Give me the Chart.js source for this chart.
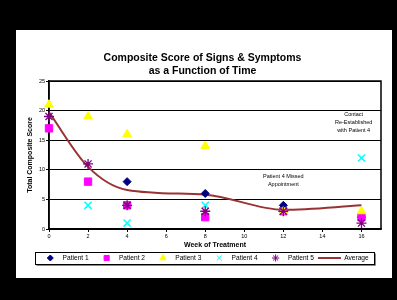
<!DOCTYPE html>
<html>
<head>
<meta charset="utf-8">
<script src="https://cdn.jsdelivr.net/npm/chart.js@4/dist/chart.umd.min.js"></script>
<style>
  body { margin: 0; background: #000; width: 397px; height: 300px; overflow: hidden; }
  #panel { position: absolute; left: 16px; top: 30px; width: 376px; height: 248px; background: #fff; }
</style>
</head>
<body>
<div id="panel"><canvas id="myChart" width="376" height="248"></canvas></div>
<script>
// weeks of treatment
const weeks = [0, 2, 4, 8, 12, 16];

// scores per patient (null = no visit / no reading)
const patient1 = [null, null, 8, 6, 4, 2];
const patient2 = [17, 8, 4, 2, 3, 2];
const patient3 = [21, 19, 16, 14, 3, 3];
const patient4 = [null, 4, 1, 4, null, 12];
const patient5 = [19, 11, 4, 3, 3, 1];
const average = [19.7, 10.5, 6.6, 5.8, 3.25, 4];

const xTicks = [0, 2, 4, 6, 8, 10, 12, 14, 16];

// text notes on the plot: x week, y score, lines
const noteWeeks = [15.6, 12];
const noteScores = [19.4, 8.8];
const noteLines = [["Contact", "Re-Established", "with Patient 4"], ["Patient 4 Missed", "Appointment"]];

function toPoints(vals) {
    return weeks.map((w, i) => ({ x: w, y: vals[i] })).filter(p => p.y !== null);
}

Chart.defaults.font.family = "'Liberation Sans', Arial, sans-serif";
Chart.defaults.color = '#000';

// legend marker sizes (small, like the original)
const legendRadius = { rectRot: 3, rect: 3.6, triangle: 3.6, crossRot: 3.6, star: 3.6 };

const framePlugin = {
    id: 'frame',
    beforeDatasetsDraw(chart) {
        const a = chart.chartArea;
        const ctx = chart.ctx;
        ctx.save();
        ctx.strokeStyle = '#000';
        ctx.lineWidth = 1.5;
        ctx.strokeRect(a.left, a.top, a.right - a.left, a.bottom - a.top);
        ctx.restore();
    },
    afterDatasetsDraw(chart) {
        const ctx = chart.ctx;
        const xs = chart.scales.x, ys = chart.scales.y;
        ctx.save();
        ctx.fillStyle = '#000';
        ctx.font = "5.5px 'Liberation Sans', Arial, sans-serif";
        ctx.textAlign = 'center';
        ctx.textBaseline = 'middle';
        noteLines.forEach((lines, n) => {
            const px = xs.getPixelForValue(noteWeeks[n]);
            const py = ys.getPixelForValue(noteScores[n]);
            lines.forEach((t, i) => ctx.fillText(t, px, py + i * 8));
        });
        ctx.restore();
    },
    afterDraw(chart) {
        const lg = chart.legend;
        const hb = lg.legendHitBoxes;
        if (!hb || !hb.length) return;
        const ctx = chart.ctx;
        const cy = hb[0].top + lg.options.labels.font.size / 2;
        // markers
        ctx.save();
        lg.legendItems.forEach((item, i) => {
            const ds = chart.data.datasets[item.datasetIndex];
            if (ds.pointStyle === 'line') return;
            ctx.fillStyle = ds.backgroundColor;
            ctx.strokeStyle = ds.borderColor;
            ctx.lineWidth = 1;
            Chart.helpers.drawPoint(ctx, { pointStyle: ds.pointStyle, radius: legendRadius[ds.pointStyle], borderWidth: 1, rotation: 0 }, hb[i].left + 14, cy);
        });
        ctx.restore();
        // box round the legend
        const last = hb[hb.length - 1];
        const left = Math.round(hb[0].left - 1);
        const right = Math.round(last.left + last.width + 5);
        const top = Math.round(cy - 6);
        ctx.save();
        ctx.strokeStyle = '#000';
        ctx.lineWidth = 1;
        ctx.strokeRect(left + 0.5, top + 0.5, right - left, 12);
        ctx.strokeStyle = '#888';
        ctx.beginPath();
        ctx.moveTo(left + 1.5, top + 13.5);
        ctx.lineTo(right + 1.5, top + 13.5);
        ctx.lineTo(right + 1.5, top + 1.5);
        ctx.stroke();
        ctx.restore();
    }
};

const ctx = document.getElementById('myChart');
const chart = new Chart(ctx, {
    type: 'scatter',
    data: {
        datasets: [
            {
                label: 'Patient 1', data: toPoints(patient1), order: 6, clip: false,
                pointStyle: 'rectRot', pointRadius: 4, backgroundColor: '#000080', borderColor: '#000080', borderWidth: 1
            },
            {
                label: 'Patient 2', data: toPoints(patient2), order: 5, clip: false,
                pointStyle: 'rect', pointRadius: 5.2, backgroundColor: '#ff00ff', borderColor: '#ff00ff', borderWidth: 1
            },
            {
                label: 'Patient 3', data: toPoints(patient3), order: 4, clip: false,
                pointStyle: 'triangle', pointRadius: 5, backgroundColor: '#ffff00', borderColor: '#ffff00', borderWidth: 1
            },
            {
                label: 'Patient 4', data: toPoints(patient4), order: 3, clip: false,
                pointStyle: 'crossRot', pointRadius: 5, backgroundColor: '#00ffff', borderColor: '#00ffff', borderWidth: 1.5
            },
            {
                label: 'Patient 5', data: toPoints(patient5), order: 2, clip: false,
                pointStyle: 'star', pointRadius: 5, backgroundColor: '#800080', borderColor: '#800080', borderWidth: 1.3
            },
            {
                label: 'Average', data: toPoints(average), order: 7,
                showLine: true, cubicInterpolationMode: 'monotone', pointRadius: 0, pointStyle: 'line',
                borderColor: '#993333', backgroundColor: '#993333', borderWidth: 2
            }
        ]
    },
    options: {
        responsive: false,
        animation: false,
        devicePixelRatio: 1,
        layout: { padding: { left: 8, right: 11, top: 0, bottom: 6.7 } },
        scales: {
            x: {
                type: 'linear', min: 0, max: 17,
                afterBuildTicks: (scale) => { scale.ticks = xTicks.map(v => ({ value: v })); },
                afterFit: (scale) => { scale.height = 21.7; },
                grid: { drawOnChartArea: false, drawTicks: true, tickLength: 3, color: '#000' },
                border: { color: '#000', width: 1.5 },
                ticks: { font: { size: 5.5 }, padding: 1, maxRotation: 0 },
                title: { display: true, text: 'Week of Treatment', font: { size: 7, weight: 'bold' }, padding: { top: 0, bottom: 1.5 } }
            },
            y: {
                min: 0, max: 25,
                afterFit: (scale) => { scale.width = 25; },
                grid: { color: '#000', lineWidth: 1, tickLength: 3 },
                border: { color: '#000', width: 1.5 },
                ticks: { stepSize: 5, font: { size: 5.5 }, padding: 1 },
                title: { display: true, text: 'Total Composite Score', font: { size: 7, weight: 'bold' }, padding: { top: 2, bottom: 0 } }
            }
        },
        plugins: {
            title: {
                display: true,
                text: ['Composite Score of Signs & Symptoms', 'as a Function of Time'],
                font: { size: 10.5, weight: 'bold', lineHeight: 1.3 },
                padding: { top: 21, bottom: 2.7 }
            },
            legend: {
                position: 'bottom',
                labels: {
                    usePointStyle: true,
                    pointStyleWidth: 23,
                    boxHeight: 5,
                    padding: 4,
                    font: { size: 6.6 },
                    sort: (a, b) => a.datasetIndex - b.datasetIndex,
                    generateLabels: (chart) => {
                        const items = Chart.defaults.plugins.legend.labels.generateLabels(chart);
                        items.forEach(it => {
                            if (it.pointStyle !== 'line') {
                                // marker is drawn small by the frame plugin
                                it.fillStyle = 'rgba(0,0,0,0)';
                                it.strokeStyle = 'rgba(0,0,0,0)';
                            }
                        });
                        return items;
                    }
                }
            },
            tooltip: { enabled: false }
        }
    },
    plugins: [framePlugin]
});
</script>
</body>
</html>
